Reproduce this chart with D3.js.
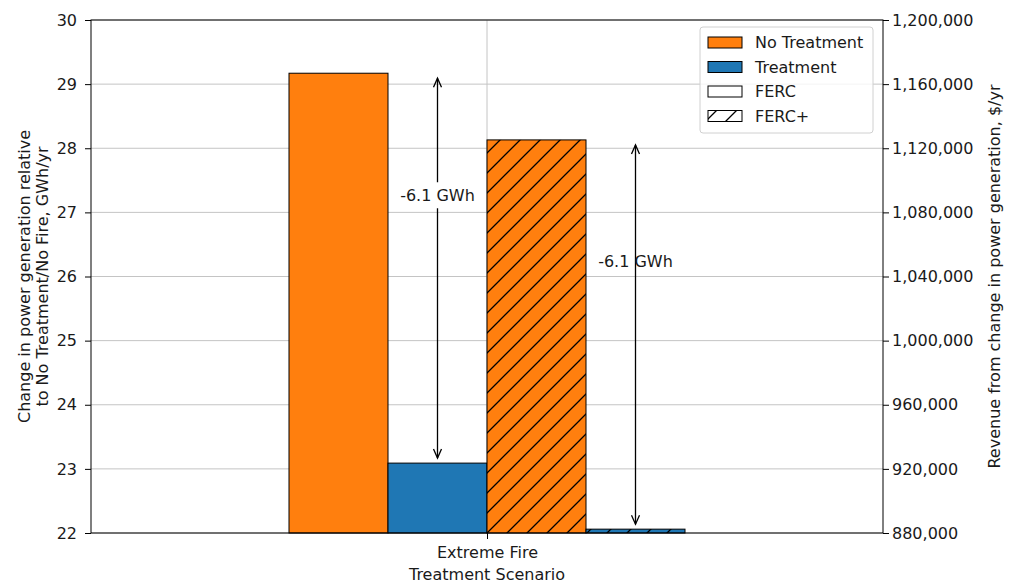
<!DOCTYPE html>
<html>
<head>
<meta charset="utf-8">
<script src="https://cdn.jsdelivr.net/npm/d3@7"></script>
<style>
  html, body { margin: 0; padding: 0; background: #ffffff; }
  svg { display: block; font-family: "DejaVu Sans", sans-serif; }
</style>
</head>
<body>
<svg id="chart" width="1018" height="585"></svg>
<script>
// Power generation change for the extreme fire scenario, by treatment and tariff
const categories = ["Extreme Fire"];
const scenarios = ["FERC", "FERC+"];
const treatments = ["No Treatment", "Treatment"];
const noTreatmentGWh = [29.17, 28.13];
const treatmentGWh = [23.09, 22.06];
const deltaLabels = ["-6.1 GWh", "-6.1 GWh"];
const leftTicks = [22, 23, 24, 25, 26, 27, 28, 29, 30];
const rightTicks = [880000, 920000, 960000, 1000000, 1040000, 1080000, 1120000, 1160000, 1200000];
const legendLabels = ["No Treatment", "Treatment", "FERC", "FERC+"];
const xTitle = "Treatment Scenario";
const yTitleLines = ["Change in power generation relative", "to No Treatment/No Fire, GWh/yr"];
const y2Title = "Revenue from change in power generation, $/yr";

const ORANGE = "#ff7f0e", BLUE = "#1f77b4", TEXT = "#1a1a1a";
const svg = d3.select("#chart");
const plot = { left: 91, right: 883, top: 20, bottom: 533 };

const barWidth = 0.2;
const x = d3.scaleLinear().domain([-0.8, 0.8]).range([plot.left, plot.right]);
const y = d3.scaleLinear().domain([22, 30]).range([plot.bottom, plot.top]);
const y2 = d3.scaleLinear().domain([880000, 1200000]).range([plot.bottom, plot.top]);

// hatch pattern for FERC+
const defs = svg.append("defs");
const hatch = defs.append("pattern")
  .attr("id", "hatch").attr("patternUnits", "userSpaceOnUse")
  .attr("width", 20).attr("height", 20);
hatch.append("path")
  .attr("d", "M-5,5 L5,-5 M0,20 L20,0 M15,25 L25,15")
  .attr("stroke", "#000").attr("stroke-width", 1.3);

// grid lines
const grid = svg.append("g");
grid.selectAll("line.h").data(leftTicks).join("line")
  .attr("x1", plot.left).attr("x2", plot.right)
  .attr("y1", d => y(d)).attr("y2", d => y(d))
  .attr("stroke", "#c4c4c4").attr("stroke-width", 1);
grid.selectAll("line.v").data(categories).join("line")
  .attr("x1", x(0)).attr("x2", x(0))
  .attr("y1", plot.top).attr("y2", plot.bottom)
  .attr("stroke", "#c4c4c4").attr("stroke-width", 1);

// bars: one group per scenario, no treatment then treatment
const bars = [];
scenarios.forEach((s, si) => {
  [noTreatmentGWh[si], treatmentGWh[si]].forEach((v, ti) => {
    const idx = si * 2 + ti;
    bars.push({ scenario: s, treatment: treatments[ti], value: v,
      center: (idx - 1.5) * barWidth, hatched: si === 1, color: ti === 0 ? ORANGE : BLUE });
  });
});

const barG = svg.append("g");
bars.forEach(b => {
  const x0 = x(b.center - barWidth / 2), x1 = x(b.center + barWidth / 2);
  const yt = y(b.value);
  barG.append("rect")
    .attr("x", x0).attr("y", yt).attr("width", x1 - x0).attr("height", y(22) - yt)
    .attr("fill", b.color);
  if (b.hatched) {
    barG.append("rect")
      .attr("x", x0).attr("y", yt).attr("width", x1 - x0).attr("height", y(22) - yt)
      .attr("fill", "url(#hatch)");
  }
  barG.append("rect")
    .attr("x", x0).attr("y", yt).attr("width", x1 - x0).attr("height", y(22) - yt)
    .attr("fill", "none").attr("stroke", "#000").attr("stroke-width", 1);
});

// double-headed arrows showing the treatment effect
const annG = svg.append("g");
scenarios.forEach((s, si) => {
  const cx = x((si * 2 + 1 - 1.5) * barWidth);
  const yTop = y(noTreatmentGWh[si]) + 5;
  const yBot = y(treatmentGWh[si]) - 5;
  annG.append("line")
    .attr("x1", cx).attr("x2", cx).attr("y1", yTop).attr("y2", yBot)
    .attr("stroke", "#000").attr("stroke-width", 1.3);
  annG.append("path")
    .attr("d", `M${cx - 4},${yTop + 9} L${cx},${yTop} L${cx + 4},${yTop + 9}`)
    .attr("fill", "none").attr("stroke", "#000").attr("stroke-width", 1.3);
  annG.append("path")
    .attr("d", `M${cx - 4},${yBot - 9} L${cx},${yBot} L${cx + 4},${yBot - 9}`)
    .attr("fill", "none").attr("stroke", "#000").attr("stroke-width", 1.3);

  const labelY = y(treatmentGWh[si] + 0.687 * (noTreatmentGWh[si] - treatmentGWh[si]));
  const t = annG.append("text")
    .attr("x", cx).attr("y", labelY).attr("dy", "0.35em")
    .attr("text-anchor", "middle").attr("font-size", 16).attr("fill", TEXT)
    .text(deltaLabels[si]);
  const bb = t.node().getBBox();
  annG.insert("rect", "text")
    .attr("x", bb.x - 2).attr("y", labelY - 13).attr("width", bb.width + 4).attr("height", 26)
    .attr("fill", "#fff");
});

// spines
svg.append("rect")
  .attr("x", plot.left).attr("y", plot.top)
  .attr("width", plot.right - plot.left).attr("height", plot.bottom - plot.top)
  .attr("fill", "none").attr("stroke", "#000").attr("stroke-width", 1);

// axes
const leftAxis = svg.append("g").attr("transform", `translate(${plot.left},0)`)
  .call(d3.axisLeft(y).tickValues(leftTicks).tickFormat(d3.format("d")).tickSize(6).tickPadding(8));
const rightAxis = svg.append("g").attr("transform", `translate(${plot.right},0)`)
  .call(d3.axisRight(y2).tickValues(rightTicks).tickFormat(d3.format(",")).tickSize(6).tickPadding(3));
const xAxis = svg.append("g").attr("transform", `translate(0,${plot.bottom})`)
  .call(d3.axisBottom(x).tickValues([0]).tickFormat(() => categories[0]).tickSize(6).tickPadding(8));
[leftAxis, rightAxis, xAxis].forEach(a => {
  a.select(".domain").remove();
  a.selectAll("text").attr("font-size", 16).attr("font-family", "DejaVu Sans, sans-serif").attr("fill", TEXT);
  a.selectAll("line").attr("stroke", "#000");
});

// axis titles
svg.append("text")
  .attr("x", x(0)).attr("y", 580)
  .attr("text-anchor", "middle").attr("font-size", 16).attr("fill", TEXT)
  .text(xTitle);
const yMid = (plot.top + plot.bottom) / 2;
yTitleLines.forEach((line, i) => {
  svg.append("text")
    .attr("transform", `translate(${30 + i * 18},${yMid}) rotate(-90)`)
    .attr("text-anchor", "middle").attr("font-size", 16).attr("fill", TEXT)
    .text(line);
});
svg.append("text")
  .attr("transform", `translate(1000,${yMid}) rotate(-90)`)
  .attr("text-anchor", "middle").attr("font-size", 16).attr("fill", TEXT)
  .text(y2Title);

// legend
const lg = svg.append("g").attr("transform", "translate(700,27)");
lg.append("rect").attr("width", 173).attr("height", 106).attr("rx", 3)
  .attr("fill", "#fff").attr("fill-opacity", 0.8).attr("stroke", "#d0d0d0");
const legendFill = [ORANGE, BLUE, "#fff", "#fff"];
legendLabels.forEach((lab, i) => {
  const ry = 10 + i * 24.5;
  const row = lg.append("g");
  row.append("rect").attr("x", 8).attr("y", ry).attr("width", 34).attr("height", 11)
    .attr("fill", legendFill[i]);
  if (lab === "FERC+") {
    row.append("rect").attr("x", 8).attr("y", ry).attr("width", 34).attr("height", 11)
      .attr("fill", "url(#hatch)");
  }
  row.append("rect").attr("x", 8).attr("y", ry).attr("width", 34).attr("height", 11)
    .attr("fill", "none").attr("stroke", "#000").attr("stroke-width", 1);
  row.append("text").attr("x", 55).attr("y", ry + 5.5).attr("dy", "0.35em")
    .attr("font-size", 16).attr("fill", TEXT).text(lab);
});
</script>
</body>
</html>
